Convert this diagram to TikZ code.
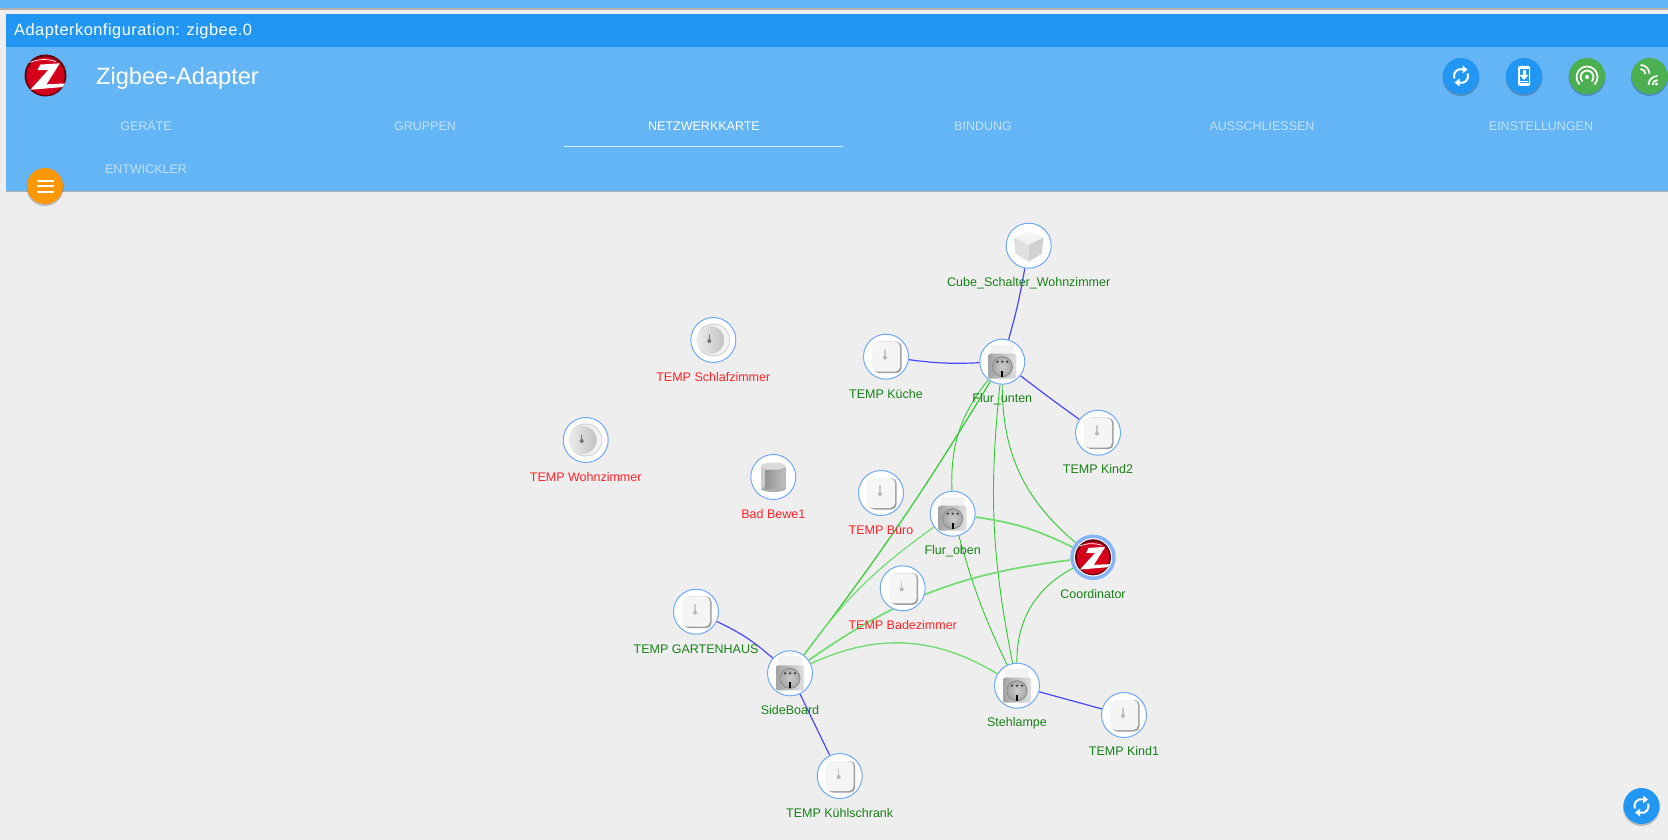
\documentclass[tikz,border=0pt]{standalone}
\usepackage{fontspec}
\setmainfont{Liberation Sans}
\definecolor{pagebg}{HTML}{EEEEEE}
\definecolor{blueA}{HTML}{2196F3}
\definecolor{blueB}{HTML}{64B5F6}
\definecolor{tabdim}{HTML}{C1E1FB}
\definecolor{ringc}{HTML}{6FA8F5}
\definecolor{linkblue}{HTML}{4848FF}
\definecolor{linkgreen}{HTML}{2FCB2F}
\definecolor{linklight}{HTML}{74DC74}
\definecolor{okgreen}{HTML}{178017}
\definecolor{badred}{HTML}{FF2228}
\definecolor{fabgreen}{HTML}{4CAF50}
\definecolor{faborange}{HTML}{FF9800}
\definecolor{zred}{HTML}{D4001C}
\pgfdeclarelayer{bg}\pgfdeclarelayer{edges}\pgfsetlayers{bg,edges,main}
\tikzset{
 x=1pt,y=-1pt,
 devnode/.style={circle,draw=ringc,fill=white,line width=1pt,minimum size=45pt,inner sep=0pt},
 coordnode/.style={circle,draw=ringc!85!white,fill=white,line width=3.5pt,minimum size=42pt,inner sep=0pt},
 oklabel/.style={text=okgreen,font=\fontsize{12.5}{15}\selectfont,anchor=base,inner sep=0pt},
 badlabel/.style={text=badred,font=\fontsize{12.5}{15}\selectfont,anchor=base,inner sep=0pt},
 tablabel/.style={text=tabdim,font=\fontsize{12.5}{15}\selectfont,anchor=base,inner sep=0pt},
 bluelink/.style={draw=linkblue,line width=1.2pt},
 greenlink/.style={draw=linkgreen,line width=.9pt},
 lightlink/.style={draw=linklight,line width=1.8pt},
 fab/.style={circle,minimum size=36pt,inner sep=0pt,fill=#1},
 tempdev/.pic={
  \fill[black!38,rounded corners=5pt] (-12,-15) rectangle (15.5,16.5);
  \fill[white!96!black,rounded corners=5pt] (-14,-15) rectangle (14,15);
  \draw[black!22,line width=1.1pt,line cap=round] (-1,-7) -- (-1,0);
  \fill[black!28] (-1,1) circle (2pt);
 },
 rounddev/.pic={
  \fill[black!20] (0,0) circle (16.5pt);
  \fill[black!5] (0.2,0) circle (15.5pt);
  \shade[left color=black!7,right color=black!24] (-3,0) circle (14pt);
  \draw[black!55,line width=1.2pt,line cap=round] (-4,-5) -- (-4,0);
  \fill[black!55] (-4,1) circle (2pt);
 },
 plugdev/.pic={
  \fill[white!95!black,rounded corners=3pt] (-12,-17) rectangle (12,-4);
  \shade[left color=black!36,right color=black!12,rounded corners=1.5pt] (-14,-8) rectangle (14,17);
  \fill[black!45] (0,5) circle (10.5pt);
  \shade[inner color=black!20,outer color=black!34] (0,5) circle (9.5pt);
  \foreach \dx in {-5,0,5} {\fill[black!80] (\dx,0) circle (1.2pt);}
  \fill[black] (-1,9) rectangle (1,15);
 },
 cubedev/.pic={
  \fill[black!5] (0,-14) -- (15,-8) -- (0,-1) -- (-15,-8) -- cycle;
  \fill[black!12] (-15,-8) -- (0,-1) -- (0,16) -- (-13,8) -- cycle;
  \fill[black!18] (15,-8) -- (0,-1) -- (0,16) -- (13,8) -- cycle;
 },
 motiondev/.pic={
  \shade[left color=black!20,right color=black!28] (-12,-11) rectangle (12,12);
  \fill[black!32] (0,12) ellipse (12 and 3);
  \fill[black!14] (0,-11) ellipse (12 and 3.5);
  \shade[left color=black!42,right color=black!28] (-8,-7) rectangle (8,11);
 },
 zlogo/.pic={
  \fill[zred!50!black] (0,0) circle (#1*1pt);
  \fill[zred] (0,0.5) circle (#1*.9pt);
  \begin{scope}[scale=#1]
  \draw[white,line width=.7pt] (-.75,-.62) .. controls (-.3,-.8) and (.1,-.8) .. (.5,-.66);
  \fill[white] (-.38,-.25) -- (-.25,-.52) -- (.68,-.58) -- (.05,.42) -- (.92,.38) -- (.82,.55) -- (-.72,.68) -- (.12,-.25) -- cycle;
  \end{scope}
 },
 refreshicon/.pic={
  \foreach \r in {0,180} {
   \begin{scope}[rotate=\r]
   \draw[white,line width=2pt] (-6.6,2.4) arc (160:285:7);
   \fill[white] (1.5,-10.5) -- (1.5,-2.5) -- (6.5,-6.5) -- cycle;
   \end{scope}}
 },
}
\begin{document}
\begin{tikzpicture}
\useasboundingbox (0,0) rectangle (1668,840);
\begin{pgfonlayer}{bg}
\fill[pagebg] (0,0) rectangle (1668,840);
\fill[black!30] (0,8) rectangle (1668,10);
\fill[blueB] (0,0) rectangle (1668,8.5);
\fill[black!30] (6,14) rectangle (1668,192);
\fill[blueB] (6,14) rectangle (1668,190.5);
\fill[blueA] (6,14) rectangle (1668,47);
\fill[white!75!blueB] (564,146) rectangle (843,147);
\end{pgfonlayer}

% header text
\node[text=white,inner sep=0pt,font=\fontsize{16.4}{20}\selectfont,anchor=base west] (title) at (14,36) {\addfontfeatures{LetterSpace=3}Adapterkonfiguration: zigbee.0};
\node[text=white,inner sep=0pt,font=\fontsize{23.6}{28}\selectfont,anchor=base west] (adapter) at (96,84.5) {Zigbee-Adapter};
\node[tablabel] (t1) at (146,130.5) {GERÄTE};
\node[tablabel] (t2) at (425,130.5) {GRUPPEN};
\node[tablabel,text=white] (t3) at (704,130.5) {NETZWERKKARTE};
\node[tablabel] (t4) at (983,130.5) {BINDUNG};
\node[tablabel] (t5) at (1262,130.5) {AUSSCHLIESSEN};
\node[tablabel] (t6) at (1541,130.5) {EINSTELLUNGEN};
\node[tablabel] (t7) at (146,173) {ENTWICKLER};
\pic at (45.5,75.5) {zlogo=21};

% buttons
\foreach \bx/\by in {1461/76,1524/76,1587/76,1649.5/76,45/186,1641.5/806} {\fill[black,opacity=.22] (\bx,\by+1.5) circle (18.5pt);}
\node[fab=blueA] (b1) at (1461,76) {};
\pic at (b1) {refreshicon};
\node[fab=blueA] (b2) at (1524,76) {};
\fill[white,rounded corners=1.5pt] (1518,66) rectangle (1530,86);
\fill[blueA] (1519.5,69) rectangle (1528.5,83);
\fill[white] (1522.5,70) rectangle (1525.5,75);
\fill[white] (1519.5,75) -- (1528.5,75) -- (1524,80) -- cycle;
\fill[white] (1520,81) rectangle (1528,82.5);
\node[fab=fabgreen] (b3) at (1587,76) {};
\fill[white] (1587,77) circle (2pt);
\draw[white,line width=1.7pt] (1582.5,81.5) arc (135:405:6.4);
\draw[white,line width=1.7pt] (1579.6,84.4) arc (135:405:10.5);
\node[fab=fabgreen] (b4) at (1649.5,76) {};
\begin{scope}[shift={(1649.5,76)}]
\draw[white,line width=1.7pt] (-9,-7) arc (-90:0:5);
\draw[white,line width=1.7pt] (-9,-11) arc (-90:0:9);
\draw[white,line width=1.7pt] (3,9) arc (180:270:5);
\draw[white,line width=1.7pt] (-1,9) arc (180:270:9);
\fill[white] (7,8) circle (1.6pt);
\end{scope}
\node[fab=faborange] (menu) at (45,186) {};
\foreach \yy in {180.5,186,191.5} {\fill[white] (36.5,\yy-1) rectangle (53.5,\yy+1);}
\node[fab=blueA] (reload) at (1641.5,806) {};
\pic at (reload) {refreshicon};

% device nodes
\node[devnode] (cube) at (1028.7,245.7) {};
\node[devnode] (kueche) at (886,356.7) {};
\node[devnode] (flurU) at (1002.3,361.7) {};
\node[devnode] (kind2) at (1098,432.7) {};
\node[devnode] (buero) at (881,493) {};
\node[devnode] (flurO) at (952.7,513.7) {};
\node[coordnode] (coord) at (1093,557.3) {};
\node[devnode] (bade) at (902.7,588.3) {};
\node[devnode] (steh) at (1017,685.7) {};
\node[devnode] (kind1) at (1124,715) {};
\node[devnode] (garten) at (696,611.7) {};
\node[devnode] (side) at (790,673.3) {};
\node[devnode] (kuehl) at (839.7,776) {};
\node[devnode] (schlaf) at (713.3,340) {};
\node[devnode] (wohn) at (585.7,440) {};
\node[devnode] (bewe) at (773.3,477) {};

\pic at (cube) {cubedev};
\pic at (kueche) {tempdev};
\pic at (flurU) {plugdev};
\pic at (kind2) {tempdev};
\pic at (buero) {tempdev};
\pic at (flurO) {plugdev};
\pic at (coord) {zlogo=18};
\pic at (bade) {tempdev};
\pic at (steh) {plugdev};
\pic at (kind1) {tempdev};
\pic at (garten) {tempdev};
\pic at (side) {plugdev};
\pic at (kuehl) {tempdev};
\pic at (schlaf) {rounddev};
\pic at (wohn) {rounddev};
\pic at (bewe) {motiondev};

% links
\begin{pgfonlayer}{edges}
\draw[bluelink] (cube) to[bend left=3] (flurU);
\draw[bluelink] (kueche) to[bend right=5] (flurU);
\draw[bluelink] (flurU) to[bend right=1] (kind2);
\draw[bluelink] (steh) to (kind1);
\draw[bluelink] (side) to (kuehl);
\draw[bluelink] (garten) to[bend left=8] (side);
\draw[greenlink,line width=1.2pt] (flurU) to[bend left=3] (side);
\draw[greenlink] (flurU) to[bend right=20] (flurO);
\draw[greenlink] (flurU) to[bend right=8.5] (steh);
\draw[greenlink] (flurU) to[bend right=25] (coord);
\draw[lightlink] (flurO) to[bend left=9] (coord);
\draw[greenlink] (flurO) to[bend right=5] (steh);
\draw[greenlink,draw=linklight,line width=1.2pt] (flurO) to[bend right=9] (side);
\draw[lightlink] (coord) to[bend right=14] (side);
\draw[greenlink] (coord) to[bend right=31] (steh);
\draw[lightlink,line width=1.4pt] (side) to[bend left=28] (steh);
\end{pgfonlayer}

% labels
\node[oklabel] (lcube) at (1028.7,286.5) {Cube\_Schalter\_Wohnzimmer};
\node[oklabel] (lkueche) at (886,398) {TEMP Küche};
\node[oklabel] (lflurU) at (1002.3,402.5) {Flur\_unten};
\node[oklabel] (lkind2) at (1098,473) {TEMP Kind2};
\node[badlabel] (lbuero) at (881,534) {TEMP Büro};
\node[oklabel] (lflurO) at (952.7,554) {Flur\_oben};
\node[oklabel] (lcoord) at (1093,598) {Coordinator};
\node[badlabel] (lbade) at (902.7,629) {TEMP Badezimmer};
\node[oklabel] (lsteh) at (1017,726) {Stehlampe};
\node[oklabel] (lkind1) at (1124,755.5) {TEMP Kind1};
\node[oklabel] (lgarten) at (696,653) {TEMP GARTENHAUS};
\node[oklabel] (lside) at (790,714) {SideBoard};
\node[oklabel] (lkuehl) at (839.7,817) {TEMP Kühlschrank};
\node[badlabel] (lschlaf) at (713.3,381) {TEMP Schlafzimmer};
\node[badlabel] (lwohn) at (585.7,481) {TEMP Wohnzimmer};
\node[badlabel] (lbewe) at (773.3,518) {Bad Bewe1};
\end{tikzpicture}
\end{document}
